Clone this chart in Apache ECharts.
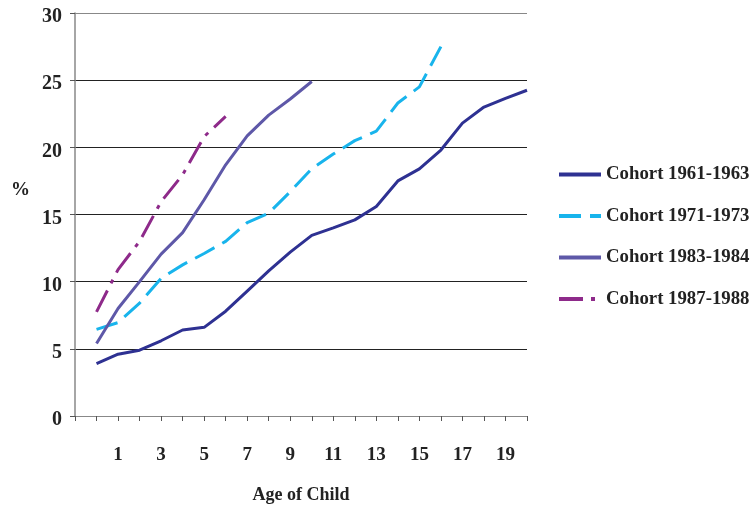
<!DOCTYPE html>
<html>
<head>
<meta charset="utf-8">
<script src="https://cdn.jsdelivr.net/npm/echarts@6/dist/echarts.min.js"></script>
<style>
html,body{margin:0;padding:0;background:#fff;}
#chart{width:755px;height:505px;}
</style>
</head>
<body>
<div id="chart"></div>
<script>
var ages = [0,1,2,3,4,5,6,7,8,9,10,11,12,13,14,15,16,17,18,19,20];
var cohort1961 = [3.9,4.6,4.9,5.6,6.4,6.6,7.8,9.3,10.8,12.2,13.45,14.0,14.6,15.6,17.5,18.4,19.8,21.8,23.0,23.65,24.25];
var cohort1971 = [6.45,6.95,8.4,10.25,11.25,12.1,13.0,14.4,15.1,16.7,18.4,19.5,20.5,21.2,23.3,24.5,27.5];
var cohort1983 = [5.4,8.0,10.0,12.05,13.65,16.1,18.7,20.85,22.4,23.6,24.9];
var cohort1987 = [7.75,10.9,13.0,15.95,17.95,20.8,22.3];
var seriesNames = ['Cohort 1961-1963','Cohort 1971-1973','Cohort 1983-1984','Cohort 1987-1988'];
var yTicks = [0,5,10,15,20,25,30];

function pairs(vals){ return vals.map(function(v,i){ return [ages[i], v]; }); }

var font = 'Liberation Serif';
var chart = echarts.init(document.getElementById('chart'));
chart.setOption({
  animation:false,
  backgroundColor:'#fff',
  grid:{left:75,right:228,top:13,bottom:89,outerBoundsMode:'none',containLabel:false},
  legend:{
    orient:'vertical', left:552, top:160,
    itemWidth:42, itemHeight:6, itemGap:22.5,
    itemStyle:{opacity:0},
    lineStyle:{width:4},
    textStyle:{fontFamily:font,fontWeight:'bold',fontSize:18.8,color:'#222'},
    data:seriesNames
  },
  xAxis:{
    type:'value', min:-1, max:20, interval:1,
    name:'Age of Child', nameLocation:'middle', nameGap:70,
    nameTextStyle:{fontFamily:font,fontWeight:'bold',fontSize:18,color:'#222'},
    axisLine:{show:true,onZero:false,lineStyle:{color:'#888',width:1}},
    axisTick:{show:true,length:5,lineStyle:{color:'#555'}},
    splitLine:{show:false},
    axisLabel:{fontFamily:font,fontWeight:'bold',fontSize:19,color:'#222',margin:30,
      formatter:function(v){ return (v>0 && v%2===1) ? String(v) : ''; }}
  },
  yAxis:{
    type:'value', min:yTicks[0], max:yTicks[yTicks.length-1], interval:5,
    axisLine:{show:true,onZero:false,lineStyle:{color:'#888',width:1.5}},
    axisTick:{show:true,length:5,lineStyle:{color:'#555'}},
    splitLine:{show:true,lineStyle:{color:['#888','#222','#222','#222','#222','#222','#888'],width:1}},
    axisLabel:{fontFamily:font,fontWeight:'bold',fontSize:20,color:'#222',margin:13,lineHeight:26,verticalAlign:'top',padding:[-9,0,0,0]}
  },
  graphic:[{type:'text',left:11,top:181,style:{text:'%',font:'bold 19px "Liberation Serif"',fill:'#222'}}],
  series:[
    {name:seriesNames[0],type:'line',data:pairs(cohort1961),showSymbol:false,symbol:'none',
      lineStyle:{color:'#2E3192',width:3},itemStyle:{color:'#2E3192'}},
    {name:seriesNames[1],type:'line',data:pairs(cohort1971),showSymbol:false,symbol:'none',
      lineStyle:{color:'#18B4EC',width:3,type:[22,9]},itemStyle:{color:'#18B4EC'}},
    {name:seriesNames[2],type:'line',data:pairs(cohort1983),showSymbol:false,symbol:'none',
      lineStyle:{color:'#5E58A8',width:3},itemStyle:{color:'#5E58A8'}},
    {name:seriesNames[3],type:'line',data:pairs(cohort1987),showSymbol:false,symbol:'none',
      lineStyle:{color:'#8E2A8A',width:3,type:[24,8,4,8]},itemStyle:{color:'#8E2A8A'}}
  ]
});
</script>
</body>
</html>
